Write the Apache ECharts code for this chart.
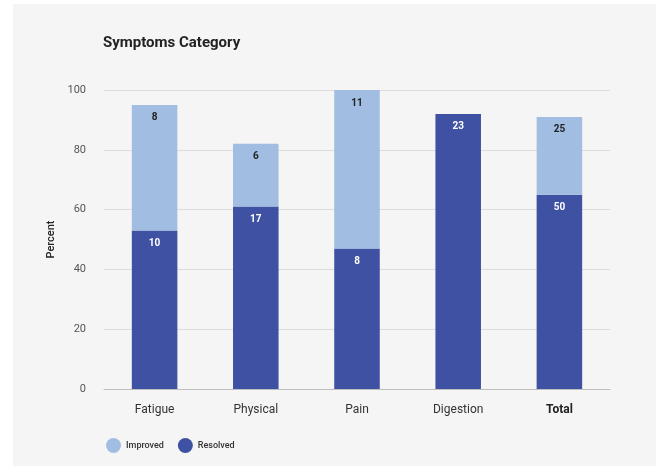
<!DOCTYPE html>
<html>
<head>
<meta charset="utf-8">
<script src="https://cdn.jsdelivr.net/npm/echarts@6/dist/echarts.min.js"></script>
<style>
  html, body { margin: 0; padding: 0; background: #ffffff; }
  #panel { position: absolute; left: 13px; top: 4px; width: 643px; height: 462px; background: #f5f5f5; }
  #chart { position: absolute; left: -13px; top: -4px; width: 665px; height: 473px; }
</style>
</head>
<body>
<div id="panel"><div id="chart"></div></div>
<script>
const categories = ['Fatigue', 'Physical', 'Pain', 'Digestion', 'Total']
// percent values (bar heights)
const resolvedPct = [53, 61, 47, 92, 65]
const improvedPct = [42, 21, 53, 0, 26]
// counts shown inside the bars
const resolvedCount = [10, 17, 8, 23, 50]
const improvedCount = [8, 6, 11, null, 25]
const yTicks = [0, 20, 40, 60, 80, 100]

const chart = echarts.init(document.getElementById('chart'))

chart.setOption({
  backgroundColor: 'transparent',
  textStyle: { fontFamily: 'Roboto' },
  title: {
    text: 'Symptoms Category',
    left: 98,
    top: 31,
    textStyle: { fontSize: 15, fontWeight: 'bold', color: '#222' }
  },
  legend: {
    left: 101,
    top: 433,
    icon: 'circle',
    itemWidth: 15,
    itemHeight: 15,
    itemGap: 14,
    data: ['Improved', 'Resolved'],
    textStyle: { fontSize: 9, color: '#333', fontWeight: 500 }
  },
  grid: {
    left: 104,
    right: 55,
    top: 90,
    bottom: 84,
    containLabel: false
  },
  xAxis: {
    type: 'category',
    data: categories,
    axisTick: { show: false },
    axisLine: { lineStyle: { color: '#bdbdbd' } },
    axisLabel: {
      margin: 15,
      fontSize: 12,
      color: '#333',
      formatter: v => v === 'Total' ? '{b|' + v + '}' : v,
      rich: { b: { fontWeight: 'bold', fontSize: 12, color: '#222' } }
    }
  },
  yAxis: {
    type: 'value',
    min: yTicks[0],
    max: yTicks[yTicks.length - 1],
    interval: 20,
    name: 'Percent',
    nameLocation: 'middle',
    nameGap: 46,
    nameTextStyle: { fontSize: 11, color: '#222', fontWeight: 500 },
    axisLine: { show: false },
    axisTick: { show: false },
    axisLabel: { fontSize: 11, color: '#555', margin: 18 },
    splitLine: { lineStyle: { color: '#dcdcdc' } }
  },
  series: [
    {
      name: 'Resolved',
      type: 'bar',
      stack: 'total',
      barWidth: '45%',
      itemStyle: { color: '#3e51a2' },
      label: {
        show: true,
        position: 'insideTop',
        distance: 8,
        fontSize: 10,
        fontWeight: 'bold',
        color: '#fff',
        formatter: p => resolvedCount[p.dataIndex]
      },
      data: resolvedPct
    },
    {
      name: 'Improved',
      type: 'bar',
      stack: 'total',
      barWidth: '45%',
      itemStyle: { color: '#a2bde2' },
      label: {
        show: true,
        position: 'insideTop',
        distance: 8,
        fontSize: 10,
        fontWeight: 'bold',
        color: '#222',
        formatter: p => improvedCount[p.dataIndex] == null ? '' : improvedCount[p.dataIndex]
      },
      data: improvedPct
    }
  ]
})
</script>
</body>
</html>
